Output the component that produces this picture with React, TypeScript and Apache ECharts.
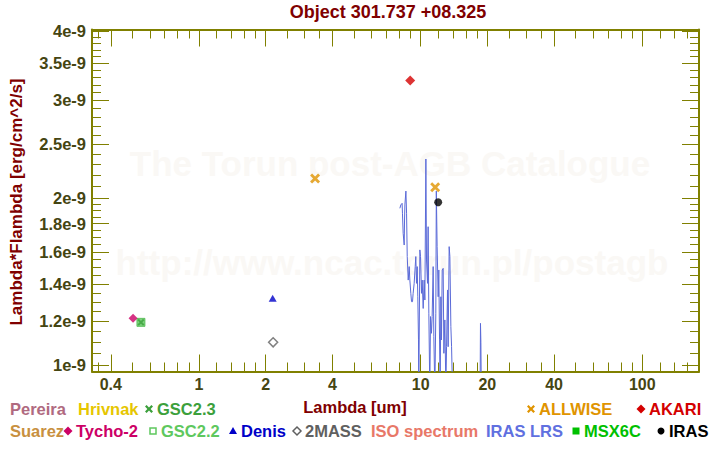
import React, { useEffect, useRef } from "react";
import * as echarts from "echarts";

// ---- axis ranges (physical units) ----
const X_MIN = 0.329;
const X_MAX = 180.3;
const Y_MIN = 0.9746e-9;
const Y_MAX = 4.027e-9;

// ---- tick values ----
const xMajorTicks = [0.4, 1, 2, 4, 10, 20, 40, 100];
const xMinorTicks = [0.35, 0.5, 0.6, 0.7, 0.8, 0.9, 1.2, 1.4, 1.6, 1.8, 2.5, 3, 3.5, 5, 6, 7, 8, 9, 12, 14, 16, 18, 25, 30, 35, 50, 60, 70, 80, 90, 120, 140, 160];
const yMajorTicks = [1e-9, 1.2e-9, 1.4e-9, 1.6e-9, 1.8e-9, 2e-9, 2.5e-9, 3e-9, 3.5e-9, 4e-9];
const yMinorTicks = [1.05e-9, 1.1e-9, 1.15e-9, 1.25e-9, 1.3e-9, 1.35e-9, 1.45e-9, 1.5e-9, 1.55e-9, 1.65e-9, 1.7e-9, 1.75e-9, 1.85e-9, 1.9e-9, 1.95e-9, 2.1e-9, 2.2e-9, 2.3e-9, 2.4e-9, 2.6e-9, 2.7e-9, 2.8e-9, 2.9e-9, 3.1e-9, 3.2e-9, 3.3e-9, 3.4e-9, 3.6e-9, 3.7e-9, 3.8e-9, 3.9e-9];

// ---- photometry: [wavelength um, lambda*F_lambda] ----
const tycho2 = [[0.504, 1.215e-9]];
const gsc22 = [[0.547, 1.195e-9]];
const gsc23 = [[0.547, 1.195e-9]];
const denis = [[2.15, 1.32e-9]];
const twoMass = [[2.16, 1.1e-9]];
const allwise = [[3.34, 2.17e-9], [11.63, 2.093e-9]];
const akari = [[8.97, 3.26e-9]];
const iras = [[12.0, 1.967e-9]];

// ---- IRAS LRS spectrum ----
const irasLrsWavelength = [8.06, 8.14, 8.25, 8.28, 8.34, 8.43, 8.46, 8.49, 8.58, 8.64, 8.7, 8.79, 8.88, 8.94, 9.03, 9.1, 9.19, 9.25, 9.35, 9.45, 9.51, 9.58, 9.65, 9.71, 9.78, 9.81, 9.92, 9.99, 10.09, 10.16, 10.27, 10.37, 10.45, 10.56, 10.63, 10.74, 10.81, 10.89, 11.0, 11.08, 11.19, 11.27, 11.39, 11.47, 11.59, 11.71, 11.77, 11.87, 12.0, 12.08, 12.17, 12.25, 12.34, 12.42, 12.51, 12.64, 12.73, 12.86, 13.0, 13.09, 13.22, 13.31, 13.45, 13.55, 13.69, 13.79, 13.93, 14.03, 18.55, 18.62, 18.7, 18.78];
const irasLrsFlux = [1.918, 1.945, 1.958, 1.879, 1.729, 1.647, 1.827, 1.945, 2.06, 1.879, 1.57, 1.424, 1.506, 1.424, 1.348, 1.302, 1.302, 1.348, 1.405, 1.506, 1.57, 1.405, 1.506, 1.329, 1.111, 0.9, 1.614, 1.57, 1.348, 1.424, 1.266, 1.424, 1.311, 2.353, 1.548, 1.405, 1.777, 1.241, 0.9, 1.224, 1.142, 1.224, 1.506, 1.126, 0.9, 1.241, 2.06, 1.636, 1.329, 1.485, 1.111, 0.9, 1.329, 1.111, 1.485, 1.495, 1.051, 1.207, 0.9, 1.08, 1.367, 1.08, 1.636, 1.57, 1.174, 1.08, 0.9, 0.9, 0.9, 1.19, 1.1, 0.9];
const irasLrsScale = 1e-9;

// ---- legend entries ----
const legendRow1 = [
  { name: "Pereira", color: "#b06a80", marker: "" },
  { name: "Hrivnak", color: "#e6c600", marker: "" },
  { name: "GSC2.3", color: "#3ca03c", marker: "cross" },
  { name: "ALLWISE", color: "#e09400", marker: "cross" },
  { name: "AKARI", color: "#d40000", marker: "diamond" },
];
const legendRow2 = [
  { name: "Suarez", color: "#c89040", marker: "" },
  { name: "Tycho-2", color: "#cc0066", marker: "diamond" },
  { name: "GSC2.2", color: "#5ec85e", marker: "openRect" },
  { name: "Denis", color: "#0000c8", marker: "triangle" },
  { name: "2MASS", color: "#606060", marker: "openDiamond" },
  { name: "ISO spectrum", color: "#e87868", marker: "" },
  { name: "IRAS LRS", color: "#6070e0", marker: "" },
  { name: "MSX6C", color: "#00c000", marker: "rect" },
  { name: "IRAS", color: "#000000", marker: "circle" },
];

const TITLE = "Object 301.737 +08.325";
const X_NAME = "Lambda [um]";
const Y_NAME = "Lambda*Flambda [erg/cm^2/s]";
const WATERMARK1 = "The Torun post-AGB Catalogue";
const WATERMARK2 = "http://www.ncac.torun.pl/postagb";

// layout (not data)
const row1X = [10, 78, 157, 539, 649];
const row2X = [10, 76, 161, 241, 305, 371, 486, 584, 669];
const ROW1_Y = 409;
const ROW2_Y = 431;

const FONT = "'Liberation Sans', Arial, sans-serif";
const AXIS_COLOR = "#808000";
const LABEL_COLOR = "#454512";
const NAME_COLOR = "#800000";
const WATERMARK_COLOR = "#faf8f5";

const lg = (v: number) => Math.log10(v);
const toLog = (pts: number[][]) => pts.map(([x, y]) => [lg(x), lg(y)]);

const CROSS_PATH = "path://M0,2L2,0L5,3L8,0L10,2L7,5L10,8L8,10L5,7L2,10L0,8L3,5Z";

function crossPoints(cx: number, cy: number, s: number) {
  const u = s / 10;
  const raw = [[0, 2], [2, 0], [5, 3], [8, 0], [10, 2], [7, 5], [10, 8], [8, 10], [5, 7], [2, 10], [0, 8], [3, 5]];
  return raw.map(([a, b]) => [cx - s / 2 + a * u, cy - s / 2 + b * u]);
}

function markerGraphic(kind: string, cx: number, cy: number, color: string): any | null {
  switch (kind) {
    case "cross":
      return { type: "polygon", shape: { points: crossPoints(cx, cy, 8) }, style: { fill: color } };
    case "diamond":
      return { type: "polygon", shape: { points: [[cx, cy - 4.5], [cx + 4.5, cy], [cx, cy + 4.5], [cx - 4.5, cy]] }, style: { fill: color } };
    case "openDiamond":
      return { type: "polygon", shape: { points: [[cx, cy - 4], [cx + 4, cy], [cx, cy + 4], [cx - 4, cy]] }, style: { fill: "#fff", stroke: color, lineWidth: 1.5 } };
    case "openRect":
      return { type: "rect", shape: { x: cx - 3, y: cy - 3, width: 6, height: 6 }, style: { fill: "#fff", stroke: color, lineWidth: 1.5 } };
    case "rect":
      return { type: "rect", shape: { x: cx - 3.5, y: cy - 3.5, width: 7, height: 7 }, style: { fill: color } };
    case "triangle":
      return { type: "polygon", shape: { points: [[cx, cy - 4], [cx + 4, cy + 3], [cx - 4, cy + 3]] }, style: { fill: color } };
    case "circle":
      return { type: "circle", shape: { cx, cy, r: 3.5 }, style: { fill: color } };
    default:
      return null;
  }
}

function legendGraphics(items: typeof legendRow1, xs: number[], y: number) {
  const out: any[] = [];
  items.forEach((it, i) => {
    const x = xs[i];
    const m = markerGraphic(it.marker, x - 8, y, it.color);
    if (m) out.push(m);
    out.push({
      type: "text",
      x,
      y,
      style: { text: it.name, fill: it.color, font: `bold 16.5px ${FONT}`, textAlign: "left", textVerticalAlign: "middle" },
    });
  });
  return out;
}

function fmtX(v: number) {
  return String(Number(Math.pow(10, v).toPrecision(2)));
}
function fmtY(v: number) {
  return `${Number(Math.pow(10, v + 9).toPrecision(2))}e-9`;
}

function makeXAxis(position: "top" | "bottom", ticks: number[], len: number, labels: boolean, line: boolean) {
  return {
    type: "value",
    position,
    min: lg(X_MIN),
    max: lg(X_MAX),
    axisLine: { show: line, onZero: false, lineStyle: { color: AXIS_COLOR, width: 2 } },
    axisTick: { show: true, inside: true, length: len, customValues: ticks.map(lg), lineStyle: { color: AXIS_COLOR, width: 1 } },
    axisLabel: labels
      ? { show: true, customValues: ticks.map(lg), formatter: fmtX, color: LABEL_COLOR, fontWeight: "bold", fontSize: 16, fontFamily: FONT, margin: 5 }
      : { show: false },
    splitLine: { show: false },
  };
}
function makeYAxis(position: "left" | "right", ticks: number[], len: number, labels: boolean, line: boolean) {
  return {
    type: "value",
    position,
    min: lg(Y_MIN),
    max: lg(Y_MAX),
    axisLine: { show: line, onZero: false, lineStyle: { color: AXIS_COLOR, width: 2 } },
    axisTick: { show: true, inside: true, length: len, customValues: ticks.map(lg), lineStyle: { color: AXIS_COLOR, width: 1 } },
    axisLabel: labels
      ? { show: true, customValues: ticks.map(lg), formatter: fmtY, color: LABEL_COLOR, fontWeight: "bold", fontSize: 16.5, fontFamily: FONT, margin: 6 }
      : { show: false },
    splitLine: { show: false },
  };
}

function buildOption(): any {
  const spectrum = irasLrsWavelength.map((w, i) => [lg(w), lg(irasLrsFlux[i] * irasLrsScale)]);
  const scatter = (name: string, data: number[][], symbol: string, size: any, color: string, extra: any = {}) => ({
    name,
    type: "scatter",
    data: toLog(data),
    symbol,
    symbolSize: size,
    itemStyle: { color, ...extra },
    z: 5,
  });
  return {
    animation: false,
    backgroundColor: "#ffffff",
    grid: { left: 92, right: 21, top: 29.5, bottom: 78.5, outerBoundsMode: "none" },
    xAxis: [
      makeXAxis("bottom", xMajorTicks, 17, true, true),
      makeXAxis("bottom", xMinorTicks, 9, false, false),
      makeXAxis("top", xMajorTicks, 17, false, true),
      makeXAxis("top", xMinorTicks, 9, false, false),
    ],
    yAxis: [
      makeYAxis("left", yMajorTicks, 17, true, true),
      makeYAxis("left", yMinorTicks, 9, false, false),
      makeYAxis("right", yMajorTicks, 17, false, true),
      makeYAxis("right", yMinorTicks, 9, false, false),
    ],
    series: [
      {
        name: "IRAS LRS",
        type: "line",
        data: spectrum,
        showSymbol: false,
        symbol: "none",
        clip: true,
        lineStyle: { color: "#5a6ad8", width: 1 },
        z: 3,
      },
      scatter("GSC2.2", gsc22, "rect", 8, "#5ec85e", { borderColor: "#4cb84c", borderWidth: 1 }),
      scatter("GSC2.3", gsc23, CROSS_PATH, 7, "#3ca03c"),
      scatter("Tycho-2", tycho2, "diamond", 9, "#cc0066"),
      scatter("Denis", denis, "triangle", [8, 7], "#0000c8"),
      scatter("2MASS", twoMass, "diamond", 9, "#ffffff", { borderColor: "#606060", borderWidth: 1.5 }),
      scatter("ALLWISE", allwise, CROSS_PATH, 10, "#e09400"),
      scatter("AKARI", akari, "diamond", 10, "#d40000"),
      scatter("IRAS", iras, "circle", 8, "#000000"),
    ],
    graphic: [
      {
        type: "text",
        x: 390,
        y: 163,
        z: 0,
        style: { text: WATERMARK1, fill: WATERMARK_COLOR, font: `bold 35px ${FONT}`, textAlign: "center", textVerticalAlign: "middle" },
      },
      {
        type: "text",
        x: 392,
        y: 262,
        z: 0,
        style: { text: WATERMARK2, fill: WATERMARK_COLOR, font: `bold 35px ${FONT}`, textAlign: "center", textVerticalAlign: "middle" },
      },
      {
        type: "text",
        x: 388,
        y: 12,
        style: { text: TITLE, fill: NAME_COLOR, font: `bold 18px ${FONT}`, textAlign: "center", textVerticalAlign: "middle" },
      },
      {
        type: "text",
        x: 355,
        y: 407,
        style: { text: X_NAME, fill: NAME_COLOR, font: `bold 16.5px ${FONT}`, textAlign: "center", textVerticalAlign: "middle" },
      },
      {
        type: "text",
        x: 16,
        y: 202,
        rotation: Math.PI / 2,
        style: { text: Y_NAME, fill: NAME_COLOR, font: `bold 17px ${FONT}`, textAlign: "center", textVerticalAlign: "middle" },
      },
      ...legendGraphics(legendRow1, row1X, ROW1_Y),
      ...legendGraphics(legendRow2, row2X, ROW2_Y),
    ],
  };
}

export default function App() {
  const ref = useRef<HTMLDivElement>(null);
  useEffect(() => {
    if (!ref.current) return;
    const chart = echarts.init(ref.current, null, { renderer: "svg" });
    chart.setOption(buildOption());
    return () => chart.dispose();
  }, []);
  return (
    <div
      ref={ref}
      style={{ position: "fixed", left: 0, top: 0, width: 720, height: 450, background: "#ffffff" }}
    />
  );
}
